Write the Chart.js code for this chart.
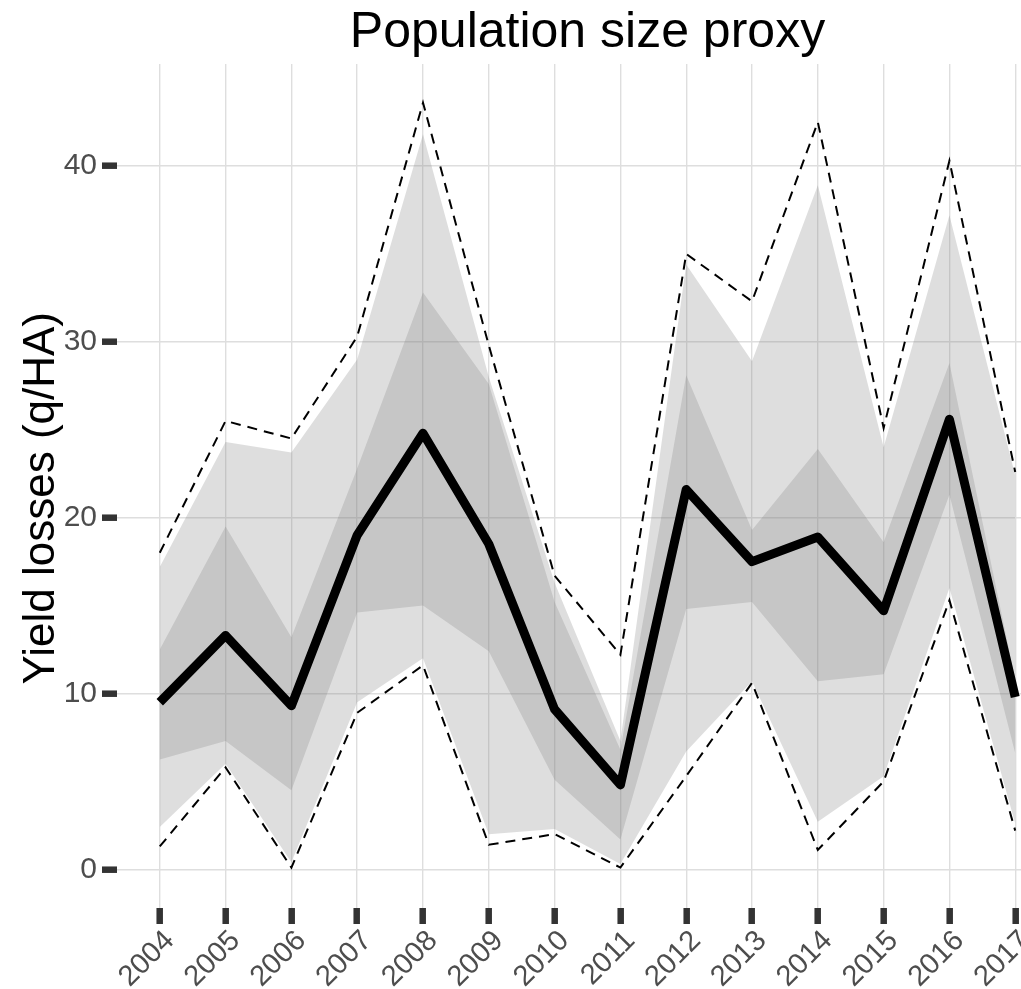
<!DOCTYPE html>
<html>
<head>
<meta charset="utf-8">
<script src="https://cdn.jsdelivr.net/npm/chart.js@4.4.1/dist/chart.umd.min.js"></script>
<style>
  html, body { margin: 0; padding: 0; background: #fff; overflow: hidden; }
  #wrap { width: 1021px; height: 989px; overflow: hidden; position: relative; }
  canvas { display: block; }
</style>
</head>
<body>
<div id="wrap"><canvas id="chart" width="1058" height="989"></canvas></div>
<script>
const years = [2004, 2005, 2006, 2007, 2008, 2009, 2010, 2011, 2012, 2013, 2014, 2015, 2016, 2017];
const yTicks = [0, 10, 20, 30, 40];

// median line
const meanLoss = [9.5, 13.3, 9.3, 19.0, 24.8, 18.5, 9.1, 4.8, 21.6, 17.5, 18.9, 14.7, 25.6, 9.8];
// dashed envelope
const dashUpper = [18.0, 25.5, 24.5, 30.3, 43.6, 29.8, 16.7, 12.2, 35.0, 32.3, 42.5, 25.1, 40.3, 22.6];
const dashLower = [1.3, 5.8, 0.1, 8.9, 11.6, 1.4, 2.0, 0.1, 5.3, 10.6, 1.1, 5.0, 15.3, 2.2];
// outer (light) band
const lightUpper = [17.2, 24.3, 23.7, 29.0, 41.8, 28.0, 16.3, 7.3, 34.4, 28.9, 38.9, 24.0, 37.2, 22.4];
const lightLower = [2.4, 6.0, 0.4, 9.5, 12.0, 2.0, 2.3, 0.3, 6.7, 10.7, 2.7, 5.3, 16.0, 2.6];
// inner (dark) band
const darkUpper = [12.5, 19.5, 13.2, 22.8, 32.8, 27.6, 15.2, 6.8, 28.1, 19.3, 23.9, 18.6, 28.8, 10.8];
const darkLower = [6.25, 7.3, 4.5, 14.6, 15.0, 12.4, 5.1, 1.7, 14.8, 15.2, 10.7, 11.1, 21.3, 6.6];

const pts = (arr) => arr.map((v, i) => ({ x: years[i], y: v }));
const bandFill = "rgba(127,127,127,0.26)";

Chart.defaults.font.family = "'Liberation Sans', Arial, Helvetica, sans-serif";

new Chart(document.getElementById("chart"), {
  type: "line",
  data: {
    datasets: [
      { label: "mean", data: pts(meanLoss), borderColor: "#000", borderWidth: 9,
        borderJoinStyle: "round", borderCapStyle: "butt", pointRadius: 0, fill: false },
      { label: "upper", data: pts(dashUpper), borderColor: "#000", borderWidth: 2,
        borderDash: [10, 7], pointRadius: 0, fill: false },
      { label: "lower", data: pts(dashLower), borderColor: "#000", borderWidth: 2,
        borderDash: [10, 7], pointRadius: 0, fill: false },
      { label: "light hi", data: pts(lightUpper), borderWidth: 0, borderColor: "rgba(0,0,0,0)",
        backgroundColor: bandFill, pointRadius: 0, fill: "+1" },
      { label: "light lo", data: pts(lightLower), borderWidth: 0, borderColor: "rgba(0,0,0,0)",
        pointRadius: 0, fill: false },
      { label: "dark hi", data: pts(darkUpper), borderWidth: 0, borderColor: "rgba(0,0,0,0)",
        backgroundColor: bandFill, pointRadius: 0, fill: "+1" },
      { label: "dark lo", data: pts(darkLower), borderWidth: 0, borderColor: "rgba(0,0,0,0)",
        pointRadius: 0, fill: false },
    ],
  },
  options: {
    responsive: false,
    animation: false,
    layout: { padding: 0 },
    plugins: {
      legend: { display: false },
      tooltip: { enabled: false },
      title: {
        display: true,
        text: "Population size proxy",
        fullSize: false,
        color: "#000",
        font: { size: 50, weight: "normal", lineHeight: 1.0 },
        padding: { top: 8, bottom: 6 },
      },
    },
    scales: {
      x: {
        type: "linear",
        min: 2003.35,
        max: 2017.65,
        afterBuildTicks: (axis) => { axis.ticks = years.map((v) => ({ value: v })); },
        afterFit: (axis) => { axis.height = 81; },
        border: { display: false },
        grid: { color: "#dedede", lineWidth: 1.4, tickLength: 16, tickWidth: 6.5, tickColor: "#333" },
        ticks: {
          minRotation: 45, maxRotation: 45, padding: 0, labelOffset: 10,
          color: "#4d4d4d", font: { size: 29 },
          callback: (v) => String(v),
        },
      },
      y: {
        min: -2.2,
        max: 45.8,
        afterBuildTicks: (axis) => { axis.ticks = yTicks.map((v) => ({ value: v })); },
        afterFit: (axis) => { axis.width = 117; },
        border: { display: false },
        grid: { color: "#dedede", lineWidth: 1.4, tickLength: 15, tickWidth: 6.5, tickColor: "#333" },
        ticks: { padding: 5, color: "#4d4d4d", font: { size: 30 } },
        title: {
          display: true,
          text: "Yield losses (q/HA)\u00a0\u00a0",
          color: "#000",
          font: { size: 44 },
          padding: { top: 15, bottom: 0 },
        },
      },
    },
  },
});
</script>
</body>
</html>
